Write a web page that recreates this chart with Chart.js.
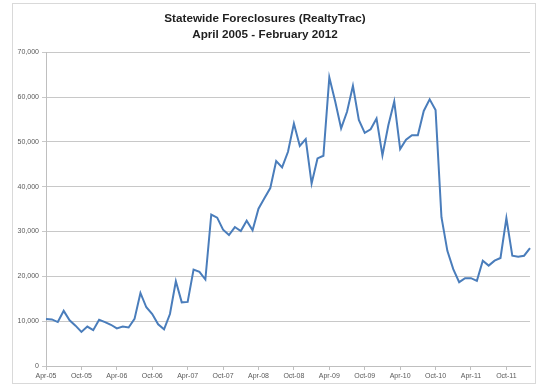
<!DOCTYPE html>
<html>
<head>
<meta charset="utf-8">
<script src="https://cdn.jsdelivr.net/npm/chart.js@4/dist/chart.umd.min.js"></script>
<style>
  html, body { margin: 0; padding: 0; background: #fff; }
  #wrap { position: relative; width: 536px; height: 385px; }
  #frame { position: absolute; left: 12px; top: 3px; width: 522px; height: 379px; border: 1px solid #d9d9d9; }
  canvas { position: absolute; left: 0; top: 0; }
</style>
</head>
<body>
<div id="wrap">
  <div id="frame"></div>
  <canvas id="chart" width="536" height="385"></canvas>
</div>
<script>
// months Apr-05 .. Feb-12
const months = [
  'Apr-05', 'May-05', 'Jun-05', 'Jul-05', 'Aug-05', 'Sep-05', 'Oct-05', 'Nov-05', 'Dec-05',
  'Jan-06', 'Feb-06', 'Mar-06', 'Apr-06', 'May-06', 'Jun-06', 'Jul-06', 'Aug-06', 'Sep-06',
  'Oct-06', 'Nov-06', 'Dec-06', 'Jan-07', 'Feb-07', 'Mar-07', 'Apr-07', 'May-07', 'Jun-07',
  'Jul-07', 'Aug-07', 'Sep-07', 'Oct-07', 'Nov-07', 'Dec-07', 'Jan-08', 'Feb-08', 'Mar-08',
  'Apr-08', 'May-08', 'Jun-08', 'Jul-08', 'Aug-08', 'Sep-08', 'Oct-08', 'Nov-08', 'Dec-08',
  'Jan-09', 'Feb-09', 'Mar-09', 'Apr-09', 'May-09', 'Jun-09', 'Jul-09', 'Aug-09', 'Sep-09',
  'Oct-09', 'Nov-09', 'Dec-09', 'Jan-10', 'Feb-10', 'Mar-10', 'Apr-10', 'May-10', 'Jun-10',
  'Jul-10', 'Aug-10', 'Sep-10', 'Oct-10', 'Nov-10', 'Dec-10', 'Jan-11', 'Feb-11', 'Mar-11',
  'Apr-11', 'May-11', 'Jun-11', 'Jul-11', 'Aug-11', 'Sep-11', 'Oct-11', 'Nov-11', 'Dec-11',
  'Jan-12', 'Feb-12'
];

const foreclosures = [
  10500, 10400, 9800, 12300, 10200, 9000, 7600, 8800, 8000,
  10300, 9800, 9200, 8400, 8800, 8600, 10500, 16300, 13100,
  11600, 9300, 8200, 11600, 18900, 14200, 14300, 21500, 21000,
  19300, 33800, 33100, 30400, 29200, 31000, 30100, 32400, 30300,
  35100, 37400, 39700, 45700, 44300, 47800, 54100, 49100, 50600,
  40700, 46300, 46900, 64400, 59000, 53000, 56700, 62500, 54900,
  52000, 52800, 55200, 47000, 53700, 59000, 48400, 50500, 51500,
  51500, 56900, 59500, 57100, 33200, 25700, 21600, 18700, 19600,
  19600, 19000, 23500, 22400, 23500, 24100, 33000, 24600, 24400,
  24600, 26300
];

const titleLines = ['Statewide Foreclosures (RealtyTrac)', 'April 2005 - February 2012'];
const yMax = 70000;
const yStep = 10000;
const labelEvery = 6;

const tickFont = { family: 'Liberation Sans', size: 7 };

new Chart(document.getElementById('chart').getContext('2d'), {
  type: 'line',
  data: {
    labels: months,
    datasets: [
      {
        label: 'Foreclosures',
        data: foreclosures,
        borderColor: '#4a7dbb',
        borderWidth: 2,
        pointRadius: 0,
        tension: 0,
        fill: false,
      },
    ],
  },
  options: {
    responsive: false,
    animation: false,
    layout: { padding: { top: 0, right: 6, bottom: 0, left: 0 } },
    scales: {
      x: {
        offset: false,
        grid: {
          drawOnChartArea: false,
          tickLength: 4,
          color: (ctx) => (ctx.index % labelEvery === 0 ? '#bfbfbf' : 'rgba(0,0,0,0)'),
        },
        border: { color: '#bfbfbf', width: 1 },
        ticks: {
          autoSkip: false,
          maxRotation: 0,
          minRotation: 0,
          padding: 2,
          color: '#595959',
          font: tickFont,
          callback: (v, i) => (i % labelEvery === 0 ? months[i] : ''),
        },
        afterFit: (scale) => { scale.height = 19; },
      },
      y: {
        min: 0,
        max: yMax,
        ticks: {
          stepSize: yStep,
          padding: 3,
          color: '#595959',
          font: tickFont,
        },
        grid: { color: '#c8c8c8', lineWidth: 1, tickLength: 4 },
        border: { color: '#bfbfbf', width: 1 },
        afterFit: (scale) => { scale.width = 46; },
      },
    },
    plugins: {
      legend: { display: false },
      tooltip: { enabled: false },
      title: {
        display: true,
        text: titleLines,
        color: '#1f1f1f',
        font: { family: 'Liberation Sans', size: 11.7, weight: 'bold', lineHeight: 1.42 },
        padding: { top: 10, bottom: 9 },
      },
    },
  },
});
</script>
</body>
</html>
